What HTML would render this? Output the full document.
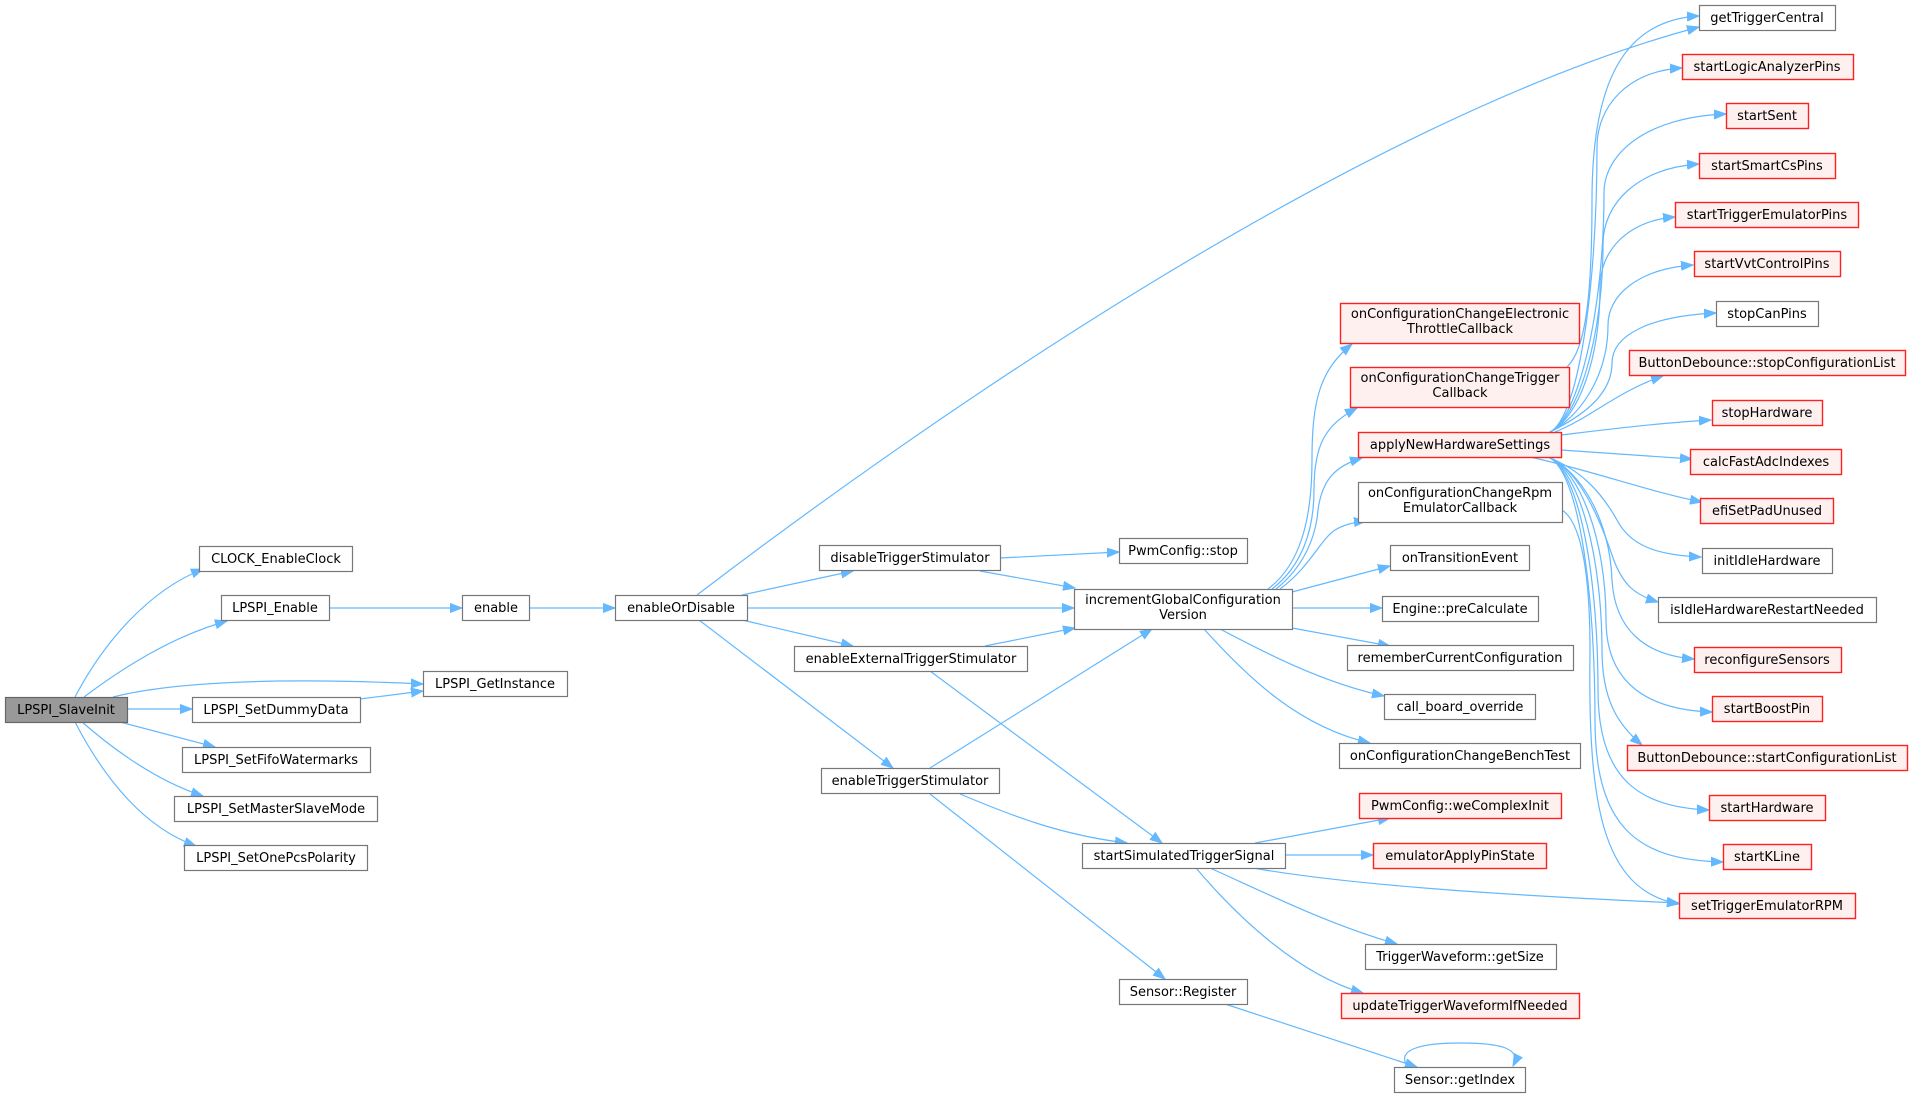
<!DOCTYPE html>
<html><head><meta charset="utf-8"><style>
html,body{margin:0;padding:0;background:#fff;}
svg{display:block;}
text{font-family:"DejaVu Sans","Liberation Sans",sans-serif;font-size:13px;fill:#000;text-anchor:middle;}
.g{fill:#fff;stroke:#777;stroke-width:1.2;}
.r{fill:#fff0f0;stroke:#ff2020;stroke-width:1.4;}
.s{fill:#999;stroke:#666;stroke-width:1.2;}
path.e{fill:none;stroke:#63b8ff;stroke-width:1.2;marker-end:url(#a);}
</style></head><body>
<svg width="1912" height="1097" viewBox="0 0 1912 1097" xmlns="http://www.w3.org/2000/svg">
<defs><marker id="a" markerWidth="13" markerHeight="10" refX="12" refY="5" orient="auto" markerUnits="userSpaceOnUse"><path d="M0,0.5 L12,5 L0,9.5 z" fill="#63b8ff" stroke="#63b8ff" stroke-width="1"/></marker></defs>

<!-- edges -->
<path class="e" d="M75,697 C105,640 150,590 203,569"/>
<path class="e" d="M84,697 C120,670 170,637 227,621"/>
<path class="e" d="M113,697 C180,680 300,678 423,684"/>
<path class="e" d="M127,709 L192,709"/>
<path class="e" d="M120,722 L215,747"/>
<path class="e" d="M82,722 C120,755 160,782 203,796"/>
<path class="e" d="M75,722 C105,780 145,828 196,846"/>
<path class="e" d="M360,699 L423,691"/>
<path class="e" d="M329,608 L462,608"/>
<path class="e" d="M529,608 L615,608"/>
<path class="e" d="M697,595 C900,440 1350,120 1699,27"/>
<path class="e" d="M742,595 L853,571"/>
<path class="e" d="M747,608 L1074,608"/>
<path class="e" d="M742,620 L853,646"/>
<path class="e" d="M699,620 L893,768"/>
<path class="e" d="M1000,558 L1119,552"/>
<path class="e" d="M980,571 L1075,588"/>
<path class="e" d="M985,646 L1075,628"/>
<path class="e" d="M930,671 L1162,843"/>
<path class="e" d="M930,768 L1152,629"/>
<path class="e" d="M960,794 C1010,815 1060,835 1127,843"/>
<path class="e" d="M930,794 L1165,979"/>

<path class="e" d="M1268,589 C1300,565 1312,520 1312,460 C1312,400 1320,370 1352,344"/>
<path class="e" d="M1272,589 C1302,566 1314,530 1314,490 C1314,445 1325,425 1357,408"/>
<path class="e" d="M1276,589 C1305,566 1316,535 1318,510 C1322,480 1335,466 1362,458"/>
<path class="e" d="M1280,589 C1310,567 1320,540 1335,530 C1345,524 1355,522 1366,521"/>
<path class="e" d="M1292,592 L1390,566"/>
<path class="e" d="M1292,608 L1382,608"/>
<path class="e" d="M1292,628 L1390,646"/>
<path class="e" d="M1220,629 C1260,650 1320,682 1384,696"/>
<path class="e" d="M1204,629 C1250,680 1300,727 1370,743"/>

<path class="e" d="M1255,843 L1390,818"/>
<path class="e" d="M1285,855 L1373,855"/>
<path class="e" d="M1253,868 C1350,885 1500,895 1679,903"/>
<path class="e" d="M1210,868 C1270,895 1330,925 1397,944"/>
<path class="e" d="M1196,868 C1240,920 1300,975 1363,993"/>
<path class="e" d="M1225,1004 L1417,1067"/>
<path class="e" d="M1408,1067 C1395,1050 1420,1043 1460,1043 C1500,1043 1522,1048 1513,1066"/>

<!-- to right column -->
<path class="e" d="M1567,367 C1585,350 1592,300 1592,200 C1592,80 1625,20 1699,16"/>
<path class="e" d="M1550,432 C1578,418 1597,290 1597,147 C1597,107 1627,71 1682,68"/>
<path class="e" d="M1550,432 C1578,418 1604,312 1604,193 C1604,153 1647,117 1726,114"/>
<path class="e" d="M1550,432 C1578,418 1603,338 1603,244 C1603,204 1637,168 1699,164"/>
<path class="e" d="M1550,432 C1578,418 1600,360 1600,287 C1600,252 1626,221 1675,217"/>
<path class="e" d="M1550,432 C1578,418 1608,378 1608,325 C1608,295 1638,269 1693,265"/>
<path class="e" d="M1550,432 C1578,418 1612,397 1612,363 C1612,335 1650,316 1716,313"/>
<path class="e" d="M1555,432 C1590,418 1620,390 1663,376"/>
<path class="e" d="M1561,435 C1620,428 1660,423 1711,420"/>
<path class="e" d="M1561,450 L1692,459"/>
<path class="e" d="M1530,457 C1590,470 1650,492 1702,502"/>
<path class="e" d="M1548,457 C1580,470 1600,490 1617,520 C1630,545 1655,555 1701,557"/>
<path class="e" d="M1548,457 C1580,470 1600,520 1612,555 C1622,585 1635,595 1658,602"/>
<path class="e" d="M1548,457 C1580,470 1610,520 1612,580 C1615,630 1645,655 1694,659"/>
<path class="e" d="M1548,457 C1580,470 1606,540 1606,620 C1606,685 1650,710 1712,712"/>
<path class="e" d="M1548,457 C1580,470 1602,560 1602,650 C1602,700 1618,725 1642,745"/>
<path class="e" d="M1548,457 C1580,470 1598,580 1598,690 C1598,780 1640,807 1709,810"/>
<path class="e" d="M1548,457 C1580,470 1595,600 1595,720 C1595,830 1640,860 1723,862"/>
<path class="e" d="M1562,510 C1578,520 1590,560 1590,650 C1588,800 1600,890 1679,904"/>

<!-- nodes -->
<rect class="s" x="5.5" y="697.5" width="122" height="25"/><text x="66" y="714">LPSPI_SlaveInit</text>
<rect class="g" x="199.5" y="546.5" width="153" height="25"/><text x="276" y="563">CLOCK_EnableClock</text>
<rect class="g" x="221.5" y="595.5" width="108" height="25"/><text x="275" y="612">LPSPI_Enable</text>
<rect class="g" x="423.5" y="671.5" width="144" height="25"/><text x="495" y="688">LPSPI_GetInstance</text>
<rect class="g" x="192.5" y="697.5" width="168" height="25"/><text x="276" y="714">LPSPI_SetDummyData</text>
<rect class="g" x="182.5" y="747.5" width="188" height="25"/><text x="276" y="764">LPSPI_SetFifoWatermarks</text>
<rect class="g" x="174.5" y="796.5" width="203" height="25"/><text x="276" y="813">LPSPI_SetMasterSlaveMode</text>
<rect class="g" x="184.5" y="845.5" width="183" height="25"/><text x="276" y="862">LPSPI_SetOnePcsPolarity</text>
<rect class="g" x="462.5" y="595.5" width="67" height="25"/><text x="496" y="612">enable</text>
<rect class="g" x="615.5" y="595.5" width="132" height="25"/><text x="681" y="612">enableOrDisable</text>
<rect class="g" x="819.5" y="545.5" width="181" height="25"/><text x="910" y="562">disableTriggerStimulator</text>
<rect class="g" x="794.5" y="646.5" width="233" height="25"/><text x="911" y="663">enableExternalTriggerStimulator</text>
<rect class="g" x="821.5" y="768.5" width="178" height="25"/><text x="910" y="785">enableTriggerStimulator</text>
<rect class="g" x="1119.5" y="538.5" width="128" height="25"/><text x="1183" y="555">PwmConfig::stop</text>
<rect class="g" x="1074.5" y="589.5" width="218" height="40"/><text x="1183" y="604">incrementGlobalConfiguration</text><text x="1183" y="619">Version</text>
<rect class="g" x="1082.5" y="843.5" width="203" height="25"/><text x="1184" y="860">startSimulatedTriggerSignal</text>
<rect class="g" x="1119.5" y="979.5" width="128" height="25"/><text x="1183" y="996">Sensor::Register</text>
<rect class="g" x="1394.5" y="1067.5" width="131" height="25"/><text x="1460" y="1084">Sensor::getIndex</text>

<rect class="r" x="1340.5" y="303.5" width="239" height="40"/><text x="1460" y="318">onConfigurationChangeElectronic</text><text x="1460" y="333">ThrottleCallback</text>
<rect class="r" x="1350.5" y="367.5" width="219" height="40"/><text x="1460" y="382">onConfigurationChangeTrigger</text><text x="1460" y="397">Callback</text>
<rect class="r" x="1358.5" y="432.5" width="203" height="25"/><text x="1460" y="449">applyNewHardwareSettings</text>
<rect class="g" x="1358.5" y="482.5" width="204" height="40"/><text x="1460" y="497">onConfigurationChangeRpm</text><text x="1460" y="512">EmulatorCallback</text>
<rect class="g" x="1390.5" y="545.5" width="139" height="25"/><text x="1460" y="562">onTransitionEvent</text>
<rect class="g" x="1382.5" y="596.5" width="156" height="25"/><text x="1460" y="613">Engine::preCalculate</text>
<rect class="g" x="1347.5" y="645.5" width="226" height="25"/><text x="1460" y="662">rememberCurrentConfiguration</text>
<rect class="g" x="1384.5" y="694.5" width="151" height="25"/><text x="1460" y="711">call_board_override</text>
<rect class="g" x="1339.5" y="743.5" width="241" height="25"/><text x="1460" y="760">onConfigurationChangeBenchTest</text>
<rect class="r" x="1359.5" y="793.5" width="202" height="25"/><text x="1460" y="810">PwmConfig::weComplexInit</text>
<rect class="r" x="1373.5" y="843.5" width="173" height="25"/><text x="1460" y="860">emulatorApplyPinState</text>
<rect class="g" x="1365.5" y="944.5" width="191" height="25"/><text x="1460" y="961">TriggerWaveform::getSize</text>
<rect class="r" x="1341.5" y="993.5" width="238" height="25"/><text x="1460" y="1010">updateTriggerWaveformIfNeeded</text>

<rect class="g" x="1699.5" y="5.5" width="136" height="25"/><text x="1767" y="22">getTriggerCentral</text>
<rect class="r" x="1682.5" y="54.5" width="171" height="25"/><text x="1767" y="71">startLogicAnalyzerPins</text>
<rect class="r" x="1726.5" y="103.5" width="82" height="25"/><text x="1767" y="120">startSent</text>
<rect class="r" x="1699.5" y="153.5" width="136" height="25"/><text x="1767" y="170">startSmartCsPins</text>
<rect class="r" x="1675.5" y="202.5" width="183" height="25"/><text x="1767" y="219">startTriggerEmulatorPins</text>
<rect class="r" x="1694.5" y="251.5" width="146" height="25"/><text x="1767" y="268">startVvtControlPins</text>
<rect class="g" x="1716.5" y="301.5" width="102" height="25"/><text x="1767" y="318">stopCanPins</text>
<rect class="r" x="1629.5" y="350.5" width="276" height="25"/><text x="1767" y="367">ButtonDebounce::stopConfigurationList</text>
<rect class="r" x="1712.5" y="400.5" width="110" height="25"/><text x="1767" y="417">stopHardware</text>
<rect class="r" x="1690.5" y="449.5" width="151" height="25"/><text x="1766" y="466">calcFastAdcIndexes</text>
<rect class="r" x="1700.5" y="498.5" width="133" height="25"/><text x="1767" y="515">efiSetPadUnused</text>
<rect class="g" x="1702.5" y="548.5" width="130" height="25"/><text x="1767" y="565">initIdleHardware</text>
<rect class="g" x="1658.5" y="597.5" width="218" height="25"/><text x="1767" y="614">isIdleHardwareRestartNeeded</text>
<rect class="r" x="1694.5" y="647.5" width="147" height="25"/><text x="1767" y="664">reconfigureSensors</text>
<rect class="r" x="1712.5" y="696.5" width="110" height="25"/><text x="1767" y="713">startBoostPin</text>
<rect class="r" x="1627.5" y="745.5" width="280" height="25"/><text x="1767" y="762">ButtonDebounce::startConfigurationList</text>
<rect class="r" x="1709.5" y="795.5" width="116" height="25"/><text x="1767" y="812">startHardware</text>
<rect class="r" x="1723.5" y="844.5" width="88" height="25"/><text x="1767" y="861">startKLine</text>
<rect class="r" x="1679.5" y="893.5" width="176" height="25"/><text x="1767" y="910">setTriggerEmulatorRPM</text>
</svg>
</body></html>
